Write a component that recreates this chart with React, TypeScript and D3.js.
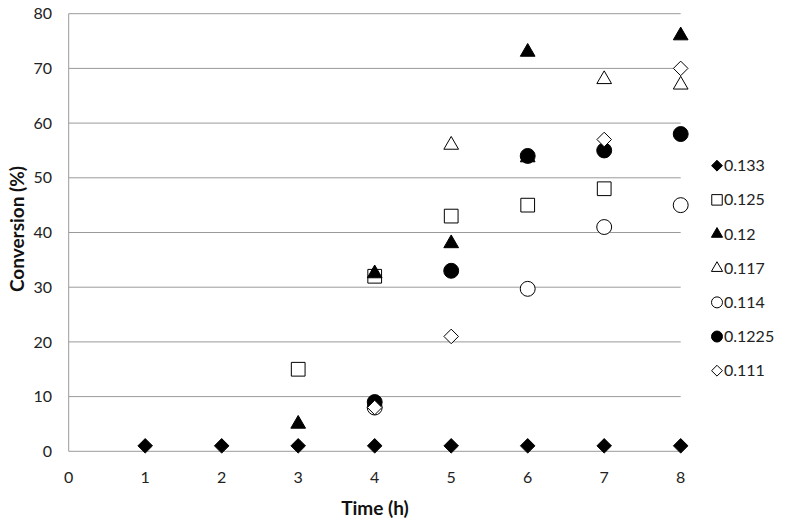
import React from "react";
import * as d3 from "d3";

const xTicks = [0, 1, 2, 3, 4, 5, 6, 7, 8];
const yTicks = [0, 10, 20, 30, 40, 50, 60, 70, 80];

const s0133: [number, number][] = [[1, 1], [2, 1], [3, 1], [4, 1], [5, 1], [6, 1], [7, 1], [8, 1]];
const s0125: [number, number][] = [[3, 15], [4, 32], [5, 43], [6, 45], [7, 48]];
const s012: [number, number][] = [[3, 5], [4, 32.5], [5, 38], [6, 73], [6, 53.7], [8, 76]];
const s0117: [number, number][] = [[5, 56], [7, 68], [8, 67]];
const s0114: [number, number][] = [[4, 8], [6, 29.7], [7, 41], [8, 45]];
const s01225: [number, number][] = [[4, 9], [5, 33], [6, 54], [7, 55], [8, 58]];
const s0111: [number, number][] = [[4, 8], [5, 21], [7, 57], [8, 70]];

type Shape = "diamond" | "square" | "triangle" | "circle";
const seriesList: { name: string; data: [number, number][]; shape: Shape; filled: boolean }[] = [
  { name: "0.133", data: s0133, shape: "diamond", filled: true },
  { name: "0.125", data: s0125, shape: "square", filled: false },
  { name: "0.12", data: s012, shape: "triangle", filled: true },
  { name: "0.117", data: s0117, shape: "triangle", filled: false },
  { name: "0.114", data: s0114, shape: "circle", filled: false },
  { name: "0.1225", data: s01225, shape: "circle", filled: true },
  { name: "0.111", data: s0111, shape: "diamond", filled: false },
];

const symType: Record<Shape, d3.SymbolType> = {
  diamond: d3.symbolDiamond2,
  square: d3.symbolSquare2,
  triangle: d3.symbolTriangle2,
  circle: d3.symbolCircle,
};

const font = "Lato, 'Open Sans', sans-serif";

export default function App() {
  const W = 790, H = 524;
  const x = d3.scaleLinear().domain([0, 8]).range([68.7, 680.7]);
  const y = d3.scaleLinear().domain([0, 80]).range([451.3, 13.7]);
  const sym = (shape: Shape, size: number) => d3.symbol().type(symType[shape]).size(size)() || "";
  const markSize: Record<Shape, number> = { diamond: 135, square: 240, triangle: 155, circle: 175 };
  const legSize: Record<Shape, number> = { diamond: 75, square: 140, triangle: 90, circle: 95 };
  const legendY = d3.scaleLinear().domain([0, 6]).range([165.7, 370.7]);
  return (
    <svg width={W} height={H} style={{ position: "absolute", left: 0, top: 0, background: "#fff" }}>
      <rect width={W} height={H} fill="#fff" />
      {yTicks.map((t) => (
        <line key={"g" + t} x1={x(0)} x2={x(8)} y1={y(t)} y2={y(t)} stroke="#9a9a9a" strokeWidth={1} />
      ))}
      <line x1={x(0)} x2={x(0)} y1={y(0)} y2={y(80)} stroke="#9a9a9a" strokeWidth={1} />
      {yTicks.map((t) => (
        <text key={"yt" + t} x={52} y={y(t)} dy="0.35em" textAnchor="end" fontFamily={font} fontSize={16} fill="#222">
          {t}
        </text>
      ))}
      {xTicks.map((t) => (
        <text key={"xt" + t} x={x(t)} y={477} dy="0.35em" textAnchor="middle" fontFamily={font} fontSize={16} fill="#222">
          {t}
        </text>
      ))}
      <text x={375} y={508} dy="0.35em" textAnchor="middle" fontFamily={font} fontSize={19} fontWeight="bold" fill="#111">
        Time (h)
      </text>
      <text transform={`translate(17,229) rotate(-90)`} dy="0.35em" textAnchor="middle" fontFamily={font} fontSize={19} fontWeight="bold" fill="#111">
        Conversion (%)
      </text>
      {seriesList.map((s) => (
        <g key={s.name}>
          {s.data.map(([t, v], i) => (
            <path
              key={i}
              d={sym(s.shape, markSize[s.shape])}
              transform={`translate(${x(t)},${y(v)})`}
              fill={s.filled ? "#000" : "#fff"}
              stroke="#000"
              strokeWidth={1}
            />
          ))}
        </g>
      ))}
      {seriesList.map((s, i) => (
        <g key={"l" + s.name} transform={`translate(717,${legendY(i)})`}>
          <path d={sym(s.shape, legSize[s.shape])} fill={s.filled ? "#000" : "#fff"} stroke="#000" strokeWidth={1} />
          <text x={7} dy="0.35em" fontFamily={font} fontSize={16} fill="#222">
            {s.name}
          </text>
        </g>
      ))}
    </svg>
  );
}
